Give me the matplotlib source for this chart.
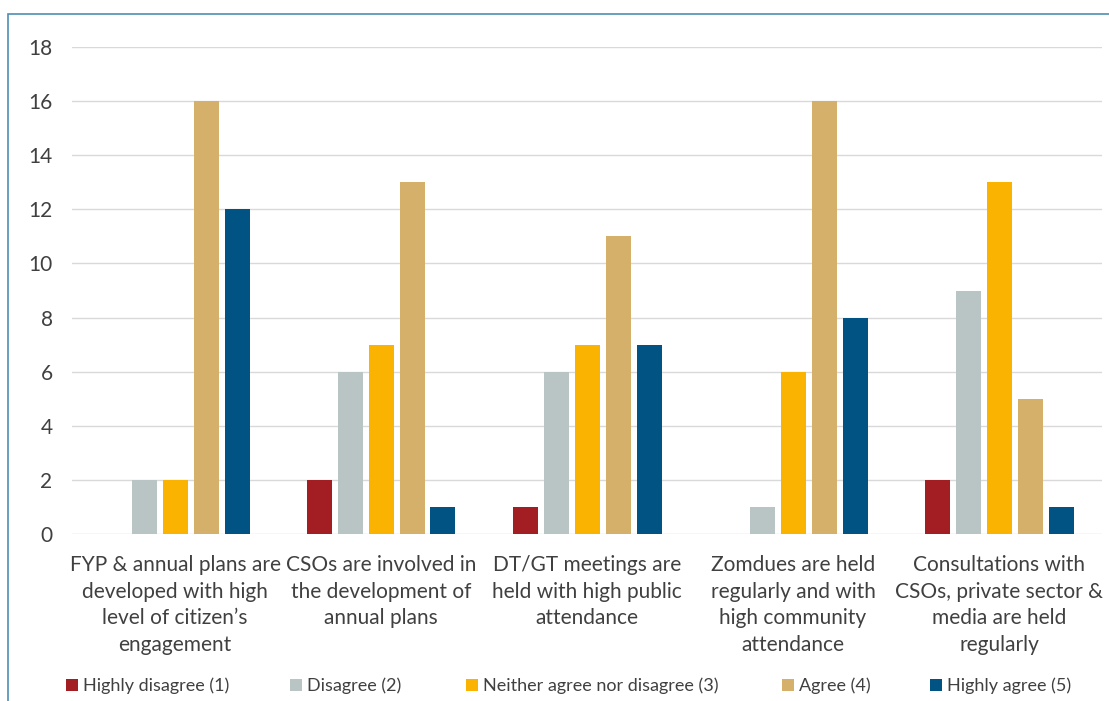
import matplotlib
matplotlib.use("Agg")
import matplotlib.pyplot as plt
import matplotlib.patches as mpatches
import numpy as np

plt.rcParams['font.family'] = ['Lato', 'DejaVu Sans']

categories = [
    "FYP & annual plans are\ndeveloped with high\nlevel of citizen\u2019s\nengagement",
    "CSOs are involved in\nthe development of\nannual plans",
    "DT/GT meetings are\nheld with high public\nattendance",
    "Zomdues are held\nregularly and with\nhigh community\nattendance",
    "Consultations with\nCSOs, private sector &\nmedia are held\nregularly",
]
series_names = [
    "Highly disagree (1)",
    "Disagree (2)",
    "Neither agree nor disagree (3)",
    "Agree (4)",
    "Highly agree (5)",
]
highly_disagree = [0, 2, 1, 0, 2]
disagree = [2, 6, 6, 1, 9]
neither = [2, 7, 7, 6, 13]
agree = [16, 13, 11, 16, 5]
highly_agree = [12, 1, 7, 8, 1]
y_ticks = [0, 2, 4, 6, 8, 10, 12, 14, 16, 18]

colors = ["#A21E23", "#B8C5C4", "#F9B300", "#D4B06B", "#005383"]
series = [highly_disagree, disagree, neither, agree, highly_agree]

W, H = 1109, 701
fig = plt.figure(figsize=(W / 100, H / 100), dpi=100)
ax = fig.add_axes([72 / W, 1 - 534 / H, (1102 - 72) / W, (534 - 47) / H])

x = np.arange(len(categories))
step = 31 / 206
width = 25 / 206
handles = []
for i, (vals, col, name) in enumerate(zip(series, colors, series_names)):
    b = ax.bar(x + (i - 2) * step, vals, width=width, color=col, label=name, zorder=3)
    handles.append(b)

ax.set_xlim(-0.5, len(categories) - 0.5)
ax.set_ylim(0, 18)
ax.set_yticks(y_ticks)
ax.yaxis.grid(True, color="#D9D9D9", linewidth=1.0, zorder=0)
ax.set_axisbelow(True)
for s in ax.spines.values():
    s.set_visible(False)
ax.tick_params(axis="both", length=0, labelcolor="#404040")
ax.tick_params(axis="y", pad=14, labelsize=15)
ax.tick_params(axis="x", pad=15, labelsize=15)
ax.set_xticks(x)
ax.set_xticklabels(categories, linespacing=1.42, va="top")

# legend entries, one per series, laid out along the bottom
legend_x = [66, 290, 466, 782, 930]
for h, name, lx in zip(handles, series_names, legend_x):
    leg = fig.legend(
        handles=[h], labels=[name], loc="center left",
        bbox_to_anchor=(lx / W, 1 - 686 / H), frameon=False, fontsize=13,
        handlelength=0.68, handleheight=0.68, handletextpad=0.25,
        borderpad=0, borderaxespad=0,
    )
    for t in leg.get_texts():
        t.set_color("#404040")

# chart frame: visible on the left and top edges
fig.patches.append(mpatches.Rectangle(
    (8 / W, -0.1), 1.1, 1 - 14 / H + 0.1, transform=fig.transFigure,
    fill=False, edgecolor="#4F8DB5", linewidth=1.2))

fig.savefig("out.png", dpi=100)
